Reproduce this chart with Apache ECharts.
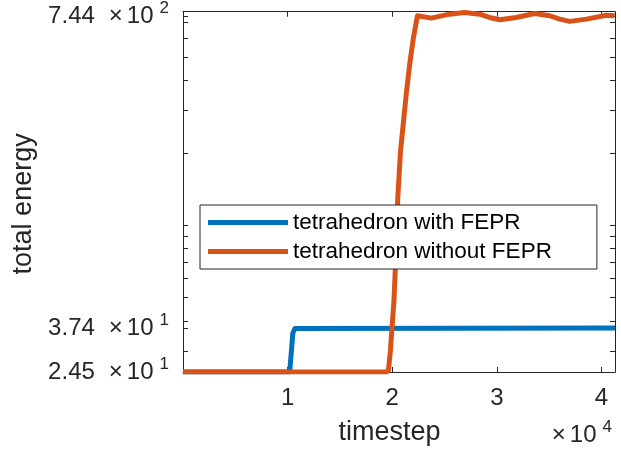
<!DOCTYPE html>
<html>
<head>
<meta charset="utf-8">
<script src="https://cdn.jsdelivr.net/npm/echarts@6/dist/echarts.min.js"></script>
<style>
html,body{margin:0;padding:0;background:#fff;}
#chart{width:621px;height:453px;}
</style>
</head>
<body>
<div id="chart"></div>
<script>
// ---- data ----
var seriesNames = ['tetrahedron with FEPR', 'tetrahedron without FEPR'];
var blueT = [0, 10200, 10500, 10700, 10850, 41300];
var blueE = [24.5, 24.5, 35.5, 37.2, 37.4, 37.4];
var orangeT = [0, 19450, 19642, 19833, 19977, 20168, 20312, 20532, 20791, 21078, 21365, 21700, 22035, 22417,
  23729, 25481, 26917, 28353, 29310, 30268, 31866, 33618, 35054, 36011, 36968, 38567, 40481, 41275];
var orangeE = [24.5, 24.5, 24.9, 30.2, 37.2, 48.6, 67.8, 129.6, 202.8, 269.9, 359.3, 477.9, 606.6, 746,
  728.9, 757.1, 769.4, 757.1, 733.8, 718, 733.8, 762, 745.8, 722.1, 706.5, 722.1, 749.9, 745.8];
var xTickValues = [10000, 20000, 30000, 40000];
var yTickLabelValues = [24.5, 37.4, 744];
var yTickValues = [24.5, 30, 37.4, 40, 50, 60, 70, 80, 90, 100, 200, 300, 400, 500, 600, 700, 744];
var xRange = [0, 41300];
var yRange = [24.5, 775];

function pairs(t, e) { return t.map(function (v, i) { return [v, e[i]]; }); }

var textColor = '#262626';
var font = '"Liberation Sans", Arial, Helvetica, sans-serif';

function yLabel(v) {
  var ex = Math.floor(Math.log10(v) + 1e-9);
  var m = (v / Math.pow(10, ex)).toFixed(2);
  return '{m|' + m + '}{x|×}{t|10}{e|' + ex + '}';
}

var rich = {
  m: {fontSize: 24, lineHeight: 32, color: textColor, fill: textColor, padding: [0, 14, 0, 0], fontFamily: font},
  x: {fontSize: 24, lineHeight: 32, color: textColor, fill: textColor, padding: [0, 4, 0, 0], fontFamily: font},
  t: {fontSize: 24, lineHeight: 32, color: textColor, fill: textColor, fontFamily: font},
  e: {fontSize: 17, lineHeight: 17, color: textColor, fill: textColor, verticalAlign: 'top', padding: [0, 0, 0, 6], fontFamily: font}
};

var chart = echarts.init(document.getElementById('chart'), null, {renderer: 'canvas'});
var axisLineStyle = {color: textColor, width: 1};
chart.setOption({
  animation: false,
  backgroundColor: '#fff',
  textStyle: {fontFamily: font},
  grid: {left: 183, right: 6, top: 10, bottom: 81, containLabel: false},
  legend: {
    orient: 'vertical',
    left: 200, top: 205,
    data: seriesNames,
    icon: 'rect',
    itemWidth: 80, itemHeight: 5,
    itemGap: 6,
    padding: [6, 45, 6, 8],
    backgroundColor: '#fff',
    borderColor: textColor, borderWidth: 1, borderRadius: 0,
    textStyle: {fontSize: 22.5, color: '#000', fontFamily: font, lineHeight: 23}
  },
  xAxis: [{
    type: 'value', min: xRange[0], max: xRange[1],
    name: 'timestep', nameLocation: 'middle', nameGap: 47,
    nameTextStyle: {fontSize: 27, color: textColor, padding: [0, 19, 0, 0]},
    axisLine: {show: true, lineStyle: axisLineStyle},
    axisTick: {show: true, inside: true, length: 5, customValues: xTickValues, lineStyle: axisLineStyle},
    axisLabel: {show: true, customValues: xTickValues, fontSize: 24, color: textColor, margin: 14,
      formatter: function (v) { return String(v / 10000); }},
    splitLine: {show: false}
  }, {
    type: 'value', min: xRange[0], max: xRange[1], position: 'top',
    axisLine: {show: true, onZero: false, lineStyle: axisLineStyle},
    axisTick: {show: true, inside: true, length: 5, customValues: xTickValues, lineStyle: axisLineStyle},
    axisLabel: {show: false}, splitLine: {show: false}
  }],
  yAxis: [{
    type: 'log', logBase: 10, min: yRange[0], max: yRange[1],
    name: 'total energy', nameLocation: 'middle', nameGap: 145,
    nameTextStyle: {fontSize: 27, color: textColor, padding: [0, 24, 0, 0]},
    axisLine: {show: true, lineStyle: axisLineStyle},
    axisTick: {show: true, inside: true, length: 5, customValues: yTickValues, lineStyle: axisLineStyle},
    axisLabel: {show: true, customValues: yTickLabelValues, margin: 14, color: textColor,
      formatter: yLabel, rich: rich},
    splitLine: {show: false}
  }, {
    type: 'log', logBase: 10, min: yRange[0], max: yRange[1], position: 'right',
    axisLine: {show: true, onZero: false, lineStyle: axisLineStyle},
    axisTick: {show: true, inside: true, length: 5, customValues: yTickValues, lineStyle: axisLineStyle},
    axisLabel: {show: false}, splitLine: {show: false}
  }],
  graphic: [{
    type: 'text', right: 9, top: 419,
    style: {text: '{x|×}{t|10}{e|4}', rich: rich}
  }],
  series: [{
    name: seriesNames[0], type: 'line', data: pairs(blueT, blueE),
    showSymbol: false, color: '#0072BD',
    lineStyle: {width: 5, color: '#0072BD', join: 'round'}
  }, {
    name: seriesNames[1], type: 'line', data: pairs(orangeT, orangeE),
    showSymbol: false, color: '#D95319',
    lineStyle: {width: 5, color: '#D95319', join: 'round'}
  }]
});
</script>
</body>
</html>
